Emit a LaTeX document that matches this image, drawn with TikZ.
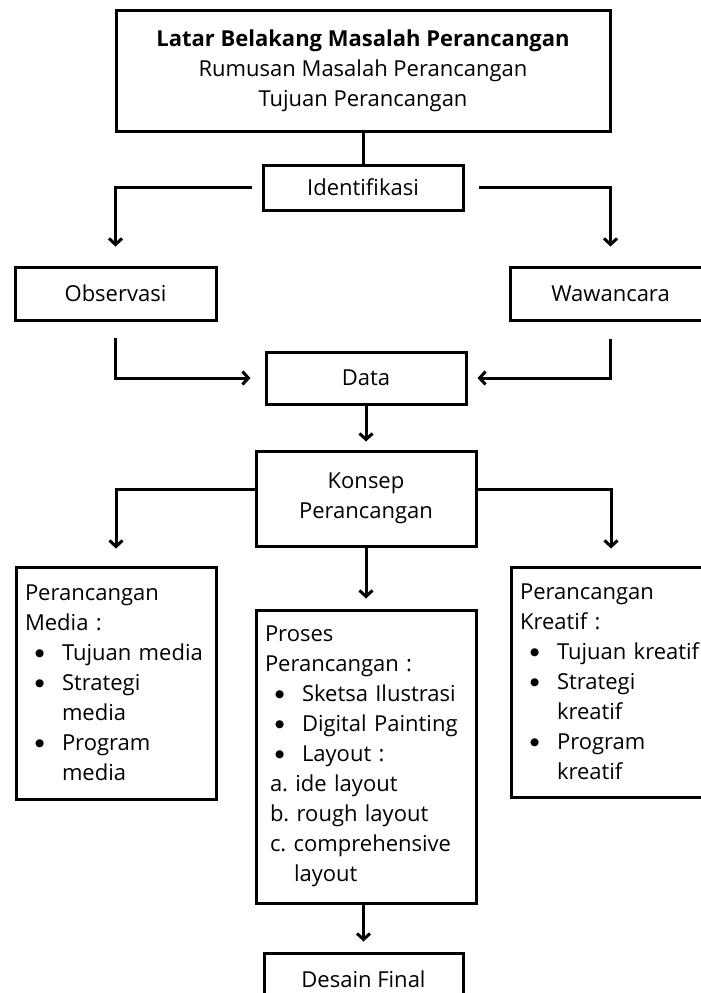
\documentclass[tikz,border=0pt]{standalone}
\usepackage{fontspec}
\setmainfont{Open Sans}
\newfontfamily\dotfont{DejaVu Sans}
\usetikzlibrary{arrows.meta}
\frenchspacing
\newcommand{\bigdot}{\raisebox{4.2pt}{\dotfont\fontsize{10.5}{10.5}\selectfont ●}}
\newcommand{\bitem}[1]{\mbox{\makebox[37pt][l]{\hspace*{10pt}\bigdot}#1}}
\newcommand{\bcont}[1]{\mbox{\hspace*{37pt}#1}}
\begin{document}
\begin{tikzpicture}[x=1pt,y=-1pt,
  box/.style={draw, line width=3pt, inner sep=0pt, font=\fontsize{22}{30}\selectfont, align=center},
  lbox/.style={box, align=left, inner xsep=9pt},
  link/.style={line width=3pt},
  arr/.style={link, -{Straight Barb[length=6pt,width=13pt]}}
]
\useasboundingbox (0,0) rectangle (701,993);
\fill[white] (0,0) rectangle (701,993);

\node[box, minimum width=494pt, minimum height=121pt] (top) at (363,71)
  {\textbf{Latar Belakang Masalah Perancangan}\\Rumusan Masalah Perancangan\\Tujuan Perancangan};
\node[box, minimum width=200pt, minimum height=45pt] (ident) at (363,187.5) {Identifikasi};
\node[box, minimum width=201pt, minimum height=53pt] (obs) at (115.5,293.5) {Observasi};
\node[box, minimum width=201pt, minimum height=53pt] (waw) at (610.5,293.5) {Wawancara};
\node[box, minimum width=200pt, minimum height=52pt] (data) at (366,378) {Data};
\node[box, minimum width=220pt, minimum height=95pt] (konsep) at (366,498.5) {Konsep\\Perancangan};

\node[lbox, text width=182pt, minimum height=232pt] (media) at (116,683)
  {Perancangan\\Media :\\\bitem{Tujuan media}\\\bitem{Strategi}\\\bcont{media}\\\bitem{Program}\\\bcont{media}};
\node[lbox, text width=182pt, minimum height=230pt] (kreatif) at (611,682)
  {Perancangan\\Kreatif :\\\bitem{Tujuan kreatif}\\\bitem{Strategi}\\\bcont{kreatif}\\\bitem{Program}\\\bcont{kreatif}};
\node[lbox, text width=202pt, minimum height=293pt] (proses) at (366,756.5)
  {Proses\\Perancangan :\\\bitem{Sketsa Ilustrasi}\\\bitem{Digital Painting}\\\bitem{Layout :}\\
   \mbox{\hspace*{5pt}a. ide layout}\\\mbox{\hspace*{5pt}b. rough layout}\\\mbox{\hspace*{5pt}c. comprehensive}\\\mbox{\hspace*{29pt}layout}};
\node[box, minimum width=199pt, minimum height=52pt] (desain) at (363.5,979) {Desain Final};

\draw[link] (top) -- (ident);
\draw[arr, shorten <=10pt, shorten >=19pt] (ident.west) -| (obs.north);
\draw[arr, shorten <=14pt, shorten >=19pt] (ident.east) -| (waw.north);
\draw[arr, shorten <=16pt, shorten >=14pt] (obs.south) |- (data.west);
\draw[arr, shorten <=17pt, shorten >=10pt] (waw.south) |- (data.east);
\draw[arr, shorten >=8pt] (data) -- (konsep);
\draw[arr, shorten >=17pt] ([yshift=9.5pt]konsep.west) -| (media.north);
\draw[arr, shorten >=17pt] ([yshift=9.5pt]konsep.east) -| (kreatif.north);
\draw[arr, shorten >=10pt] (konsep) -- (proses);
\draw[arr, shorten >=10pt] (desain.north |- proses.south) -- (desain.north);
\end{tikzpicture}
\end{document}
